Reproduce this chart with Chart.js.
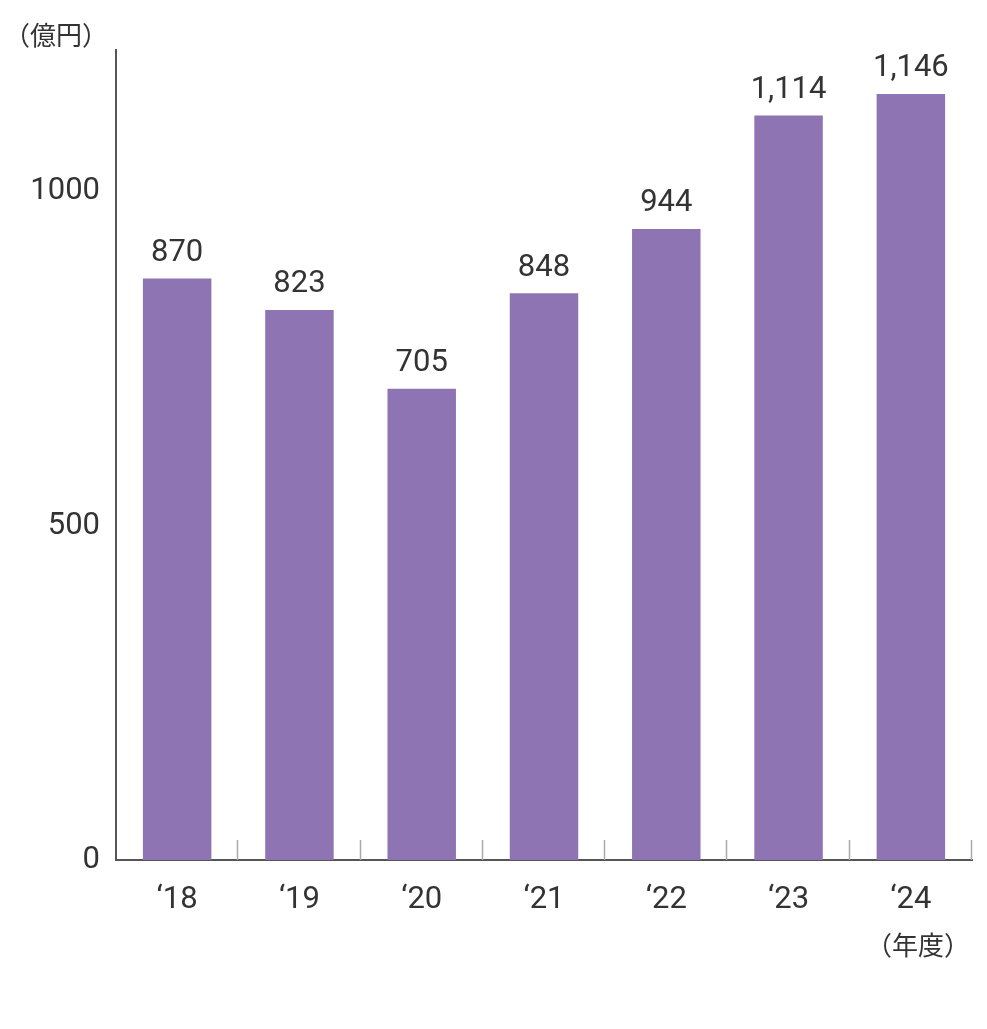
<!DOCTYPE html>
<html>
<head>
<meta charset="utf-8">
<script src="https://cdn.jsdelivr.net/npm/chart.js@4/dist/chart.umd.min.js"></script>
<style>
  body { margin: 0; background: #fff; }
  #wrap { position: relative; width: 987px; height: 1029px; }
</style>
</head>
<body>
<div id="wrap"><canvas id="chart" width="987" height="1029"></canvas></div>
<script>
const categories = ['‘18', '‘19', '‘20', '‘21', '‘22', '‘23', '‘24'];
const sales = [870, 823, 705, 848, 944, 1114, 1146];
const yTicks = [0, 500, 1000];

const FONT = 'Roboto, "Noto Sans", sans-serif';
const CJK = '"Noto Sans CJK JP", sans-serif';
const TEXT = '#333333';

// value labels, tick marks and unit captions
const extras = {
    id: 'extras',
    afterDatasetsDraw(chart) {
        const ctx = chart.ctx;
        const meta = chart.getDatasetMeta(0);
        ctx.save();
        ctx.fillStyle = TEXT;
        ctx.font = '31px ' + FONT;
        ctx.textAlign = 'center';
        ctx.textBaseline = 'bottom';
        meta.data.forEach((bar, i) => {
            ctx.fillText(sales[i].toLocaleString('en-US'), bar.x, bar.y - 10);
        });

        const x = chart.scales.x;
        ctx.strokeStyle = '#aaaaaa';
        ctx.lineWidth = 1.5;
        const step = (x.right - x.left) / categories.length;
        for (let i = 1; i <= categories.length; i++) {
            const px = Math.round(x.left + i * step) - 0.5;
            ctx.beginPath();
            ctx.moveTo(px, x.top - 20);
            ctx.lineTo(px, x.top);
            ctx.stroke();
        }

        ctx.font = '26px ' + CJK;
        ctx.textAlign = 'left';
        ctx.textBaseline = 'middle';
        ctx.fillText('（億円）', 4, 35);
        ctx.fillText('（年度）', 866, 945);
        ctx.restore();
    }
};

new Chart(document.getElementById('chart'), {
    type: 'bar',
    data: {
        labels: categories,
        datasets: [{
            data: sales,
            backgroundColor: '#8e74b2',
            barPercentage: 0.56,
            categoryPercentage: 1
        }]
    },
    options: {
        responsive: false,
        animation: false,
        layout: { padding: { top: 50, right: 15, left: 0, bottom: 0 } },
        plugins: { legend: { display: false }, tooltip: { enabled: false } },
        scales: {
            x: {
                grid: { display: false, drawTicks: false },
                border: { color: '#555555', width: 2 },
                ticks: { color: TEXT, font: { family: FONT, size: 31 }, padding: 22 },
                afterFit(s) { s.height = 169; }
            },
            y: {
                min: 0,
                max: 1212,
                afterBuildTicks(s) { s.ticks = yTicks.map(v => ({ value: v })); },
                grid: { display: false, drawTicks: false },
                border: { color: '#555555', width: 2 },
                ticks: {
                    color: TEXT, font: { family: FONT, size: 31 }, padding: 16,
                    callback: v => String(v)
                },
                afterFit(s) { s.width = 116; }
            }
        }
    },
    plugins: [extras]
});
</script>
</body>
</html>
